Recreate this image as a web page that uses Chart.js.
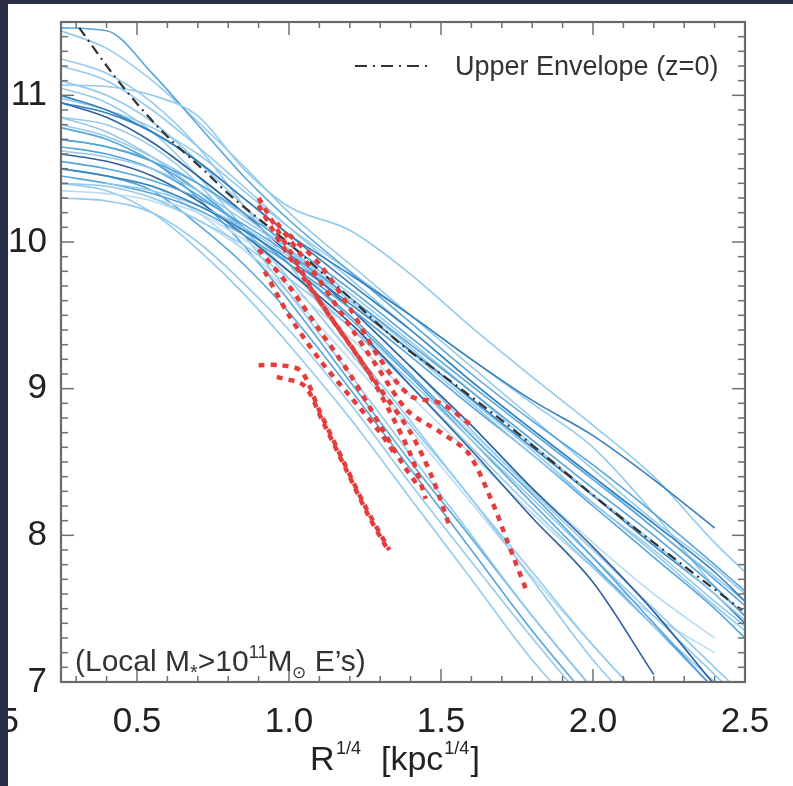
<!DOCTYPE html>
<html><head><meta charset="utf-8">
<script src="https://cdn.jsdelivr.net/npm/chart.js@4.4.1/dist/chart.umd.min.js"></script>
<style>html,body{margin:0;padding:0;background:#fff;overflow:hidden}canvas{display:block}</style>
</head><body>
<canvas id="c" width="793" height="786"></canvas>
<script>
// R^{1/4} grid shared by the blue profiles
const radius = [0.25, 0.4, 0.55, 0.7, 0.85, 1.0, 1.2, 1.4, 1.6, 1.8, 2.0, 2.2, 2.4, 2.5];

// blue profiles (log surface density) on the radius grid
const u1  = [10.95,10.88,10.75,10.55,10.30,10.05,9.78,9.50,9.20,8.92,8.68,8.38,8.05,null];
const u2  = [11.07,11.06,11.00,10.86,10.50,10.24,10.08,9.78,9.42,9.08,8.75,8.40,7.95,7.75];
const u3  = [11.46,11.44,11.15,10.80,10.45,10.15,9.80,9.45,9.10,8.78,8.48,8.15,7.80,7.62];
const u4  = [11.44,11.32,11.10,10.82,10.52,10.20,9.85,9.50,9.15,8.80,8.45,8.10,7.78,7.60];
const u5  = [11.00,10.90,10.75,10.55,10.30,10.05,9.72,9.40,9.05,8.72,8.40,8.08,7.75,7.55];
const u6  = [10.70,10.65,10.55,10.40,10.20,9.98,9.68,9.35,9.02,8.70,8.38,8.05,7.70,7.52];
const u7  = [11.20,11.10,10.90,10.65,10.38,10.10,9.75,9.40,9.05,8.72,8.40,8.05,7.72,7.55];
const u8  = [10.55,10.50,10.42,10.30,10.12,9.92,9.62,9.30,8.98,8.65,8.32,8.00,7.65,7.45];
const u9  = [10.62,10.58,10.50,10.35,10.15,9.95,9.65,9.32,8.98,8.62,8.28,7.95,7.60,7.42];
const u10 = [10.50,10.45,10.38,10.25,10.08,9.88,9.58,9.26,8.93,8.60,8.27,7.93,7.60,7.40];
const u11 = [10.80,10.72,10.58,10.40,10.18,9.95,9.62,9.28,8.92,8.58,8.22,7.90,7.55,7.38];
const u12 = [null,10.40,10.35,10.25,10.10,9.90,9.60,9.25,8.90,8.55,8.22,7.88,7.52,7.35];
const u13 = [10.45,10.40,10.33,10.22,10.05,9.85,9.55,9.22,8.88,8.55,8.20,7.85,7.50,7.30];
const u14 = [10.98,10.90,10.78,10.60,10.35,10.10,9.80,9.50,9.20,8.90,8.60,8.15,7.65,7.45];
const m1  = [10.95,10.85,10.68,10.45,10.20,9.92,9.55,9.15,8.75,8.32,7.92,7.48,6.98,null];
const m2  = [10.60,10.55,10.45,10.28,10.05,9.80,9.45,9.02,8.58,8.12,7.68,7.05,null,null];
const m3  = [11.10,11.00,10.82,10.55,10.25,9.95,9.55,9.15,8.72,8.30,7.90,7.50,7.10,6.90];
const m4  = [10.78,10.70,10.55,10.35,10.10,9.85,9.50,9.10,8.68,8.28,7.85,7.40,6.95,null];
const m5  = [10.85,10.75,10.58,10.35,10.08,9.80,9.42,9.02,8.60,8.18,7.78,7.38,7.00,null];
const m6  = [10.40,10.38,10.30,10.15,9.98,9.75,9.42,9.05,8.65,8.25,7.85,7.45,7.05,6.85];
const m7  = [10.65,10.60,10.50,10.32,10.10,9.85,9.48,9.08,8.65,8.22,7.80,7.38,6.95,null];
const m8  = [10.35,10.33,10.28,10.15,9.95,9.70,9.35,8.95,8.55,8.15,7.78,7.45,7.20,null];
const m9  = [null,null,10.30,10.20,10.02,9.80,9.45,9.08,8.70,8.32,7.95,7.60,7.30,null];
const l1  = [11.05,10.95,10.75,10.45,10.10,9.75,9.25,8.75,8.25,7.70,7.15,6.70,null,null];
const l2  = [10.85,10.80,10.65,10.40,10.05,9.65,9.10,8.55,8.00,7.45,6.95,null,null,null];
const l3  = [10.70,10.65,10.55,10.30,9.98,9.60,9.05,8.50,7.98,7.45,6.95,null,null,null];
const l4  = [10.40,10.35,10.20,9.95,9.65,9.30,8.80,8.25,7.70,7.15,6.70,null,null,null];
const l5  = [10.30,10.28,10.20,10.00,9.72,9.40,8.90,8.35,7.82,7.30,6.80,null,null,null];
const l6  = [10.50,10.45,10.35,10.12,9.85,9.52,9.00,8.45,7.90,7.35,6.85,null,null,null];
const l7  = [11.25,11.15,10.95,10.65,10.25,9.85,9.30,8.78,8.25,7.75,7.25,6.80,null,null];
const l8  = [null,10.45,10.38,10.20,9.95,9.65,9.20,8.72,8.22,7.72,7.25,6.80,null,null];

// upper envelope (z=0)
const envelopeR = [0.31, 0.43, 0.58, 0.73, 0.80, 1.00, 1.20, 1.37, 1.50, 1.69, 1.85, 2.02, 2.25, 2.49];
const envelopeS = [11.46, 11.12, 10.76, 10.47, 10.33, 9.99, 9.62, 9.30, 9.10, 8.80, 8.53, 8.24, 7.87, 7.49];

// red dashed profiles [R^{1/4}, value]
const redA = [[0.90,10.30],[1.00,9.95],[1.10,9.60],[1.20,9.30],[1.30,9.00],[1.40,8.70],[1.47,8.40],[1.53,8.05]];
const redB = [[0.90,9.16],[0.97,9.16],[1.04,9.12],[1.10,8.85],[1.18,8.50],[1.25,8.20],[1.33,7.90]];
const redC = [[0.96,9.08],[1.05,9.02],[1.11,8.78],[1.19,8.44],[1.26,8.14],[1.32,7.92]];
const redD = [[0.96,10.13],[1.08,9.80],[1.18,9.49],[1.29,9.15],[1.39,8.85],[1.50,8.70],[1.59,8.56],[1.67,8.22],[1.72,7.95],[1.78,7.63]];
const redE = [[0.90,10.25],[0.97,10.00],[1.05,9.75],[1.15,9.45],[1.25,9.15],[1.33,8.85],[1.40,8.55],[1.45,8.25]];
const redF = [[0.90,9.95],[1.00,9.70],[1.10,9.40],[1.20,9.10],[1.30,8.75],[1.37,8.50],[1.42,8.35]];
const redG = [[0.92,9.80],[1.00,9.50],[1.10,9.20],[1.20,8.95],[1.30,8.70],[1.35,8.55]];
const redH = [[1.00,10.05],[1.10,9.85],[1.20,9.55],[1.30,9.20],[1.40,8.95],[1.50,8.90],[1.60,8.75]];

const xMajorTicks = [0.5, 1.0, 1.5, 2.0, 2.5];
const yMajorTicks = [7, 8, 9, 10, 11];

const LIGHT = '#93caee', MED = '#56a6dc', DARK = '#3580bf', DARKEST = '#2d5f9c', PALE = '#b8dcf3';
const blueSet = [
  [u1, DARK], [u2, LIGHT], [u3, MED], [u4, LIGHT], [u5, DARK], [u6, MED], [u7, LIGHT],
  [u8, MED], [u9, LIGHT], [u10, DARK], [u11, LIGHT], [u12, LIGHT], [u13, MED], [u14, LIGHT],
  [m1, DARKEST], [m2, DARKEST], [m3, LIGHT], [m4, MED], [m5, LIGHT], [m6, LIGHT], [m7, MED],
  [m8, PALE], [m9, PALE],
  [l1, LIGHT], [l2, LIGHT], [l3, MED], [l4, LIGHT], [l5, LIGHT], [l6, MED], [l7, LIGHT], [l8, PALE]
];
const redSet = [redA, redB, redC, redD, redE, redF, redG, redH];

const datasets = [];
redSet.forEach(r => datasets.push({
  data: r.map(p => ({x: p[0], y: p[1]})), borderColor: '#e53c3c', borderWidth: 4.5,
  borderDash: [6, 6], pointRadius: 0, tension: 0.3, fill: false
}));
datasets.push({
  data: envelopeR.map((r, i) => ({x: r, y: envelopeS[i]})), borderColor: '#333',
  borderWidth: 2.2, borderDash: [10, 5, 2, 5], pointRadius: 0, cubicInterpolationMode: 'monotone', fill: false
});
blueSet.forEach(([arr, col]) => datasets.push({
  data: radius.map((r, i) => ({x: r, y: arr[i]})), borderColor: col,
  borderWidth: 1.6, pointRadius: 0, cubicInterpolationMode: 'monotone', fill: false, spanGaps: false
}));

const FONT = '"Liberation Sans", Arial, Helvetica, sans-serif';

function line(ctx, x1, y1, x2, y2) { ctx.beginPath(); ctx.moveTo(x1, y1); ctx.lineTo(x2, y2); ctx.stroke(); }

const decor = {
  id: 'decor',
  beforeDraw(chart) {
    const ctx = chart.ctx; ctx.save(); ctx.fillStyle = '#fff'; ctx.fillRect(0, 0, chart.width, chart.height); ctx.restore();
  },
  afterDraw(chart) {
    const {ctx, chartArea: a, scales: {x, y}} = chart;
    ctx.save();
    // ticks (inward) on all four sides
    ctx.strokeStyle = '#707070'; ctx.lineWidth = 1.5;
    for (let i = 3; i <= 25; i++) {
      const v = i / 10, px = x.getPixelForValue(v);
      if (px < a.left + 2 || px > a.right - 2) continue;
      const L = (i % 5 === 0) ? 13 : 6;
      line(ctx, px, a.bottom, px, a.bottom - L);
      line(ctx, px, a.top, px, a.top + L);
    }
    for (let i = 70; i <= 115; i++) {
      const v = i / 10, py = y.getPixelForValue(v);
      if (py < a.top + 2 || py > a.bottom - 2) continue;
      const L = (i % 10 === 0) ? 13 : 7;
      line(ctx, a.left, py, a.left + L, py);
      line(ctx, a.right, py, a.right - L, py);
    }
    ctx.lineWidth = 2.2; ctx.strokeStyle = '#6a6a6a';
    ctx.strokeRect(a.left, a.top, a.right - a.left, a.bottom - a.top);

    // legend
    ctx.strokeStyle = '#333'; ctx.lineWidth = 2.2; ctx.setLineDash([12, 6, 2, 6]);
    line(ctx, 355, 66, 430, 66); ctx.setLineDash([]);
    ctx.fillStyle = '#333'; ctx.textBaseline = 'alphabetic'; ctx.textAlign = 'left';
    ctx.font = '27px ' + FONT;
    ctx.fillText('Upper Envelope (z=0)', 455, 75);

    // inner label
    let xx = 75; const base = 671;
    const put = (t, size, dy) => { ctx.font = size + 'px ' + FONT; ctx.fillText(t, xx, base + dy); xx += ctx.measureText(t).width; };
    ctx.fillStyle = '#333';
    put('(Local M', 30, 0); put('*', 20, 8); put('>10', 30, 0); put('11', 18, -13);
    put('M', 30, 0); put('\u2299', 17, 7); put(' E\u2019s)', 30, 0);

    // axis title
    const tb = 770;
    ctx.fillStyle = '#222';
    ctx.font = '34px ' + FONT; ctx.fillText('R', 310, tb);
    ctx.font = '18px ' + FONT; ctx.fillText('1/4', 336, tb - 16);
    ctx.font = '34px ' + FONT; ctx.fillText('[kpc', 381, tb);
    xx = 381 + ctx.measureText('[kpc').width + 1;
    ctx.font = '18px ' + FONT; ctx.fillText('1/4', xx, tb - 16);
    xx += ctx.measureText('1/4').width + 1;
    ctx.font = '34px ' + FONT; ctx.fillText(']', xx, tb);

    // cropped tick label fragment at left edge
    ctx.font = '35px ' + FONT; ctx.textAlign = 'right'; ctx.fillStyle = '#222';
    ctx.fillText('5', 19, 732);

    // dark borders of the screenshot
    ctx.fillStyle = '#2c2e48';
    ctx.fillRect(0, 0, 8, chart.height);
    ctx.fillRect(0, 0, chart.width, 4);
    ctx.restore();
  }
};

new Chart(document.getElementById('c'), {
  type: 'line',
  data: { datasets },
  options: {
    responsive: false, animation: false, devicePixelRatio: 1,
    layout: { padding: { left: 0, right: 48, top: 22, bottom: 0 } },
    plugins: { legend: { display: false }, tooltip: { enabled: false } },
    scales: {
      x: {
        type: 'linear', min: 0.25, max: 2.5,
        afterFit(s) { s.height = 104; s.paddingLeft = 0; s.paddingRight = 0; },
        afterBuildTicks(s) { s.ticks = xMajorTicks.map(v => ({value: v})); },
        grid: { display: false }, border: { display: false },
        ticks: { color: '#222', font: { size: 35, family: FONT }, padding: 11, maxRotation: 0,
                 callback: v => Number(v).toFixed(1) }
      },
      y: {
        type: 'linear', min: 7, max: 11.5,
        afterFit(s) { s.width = 61; s.paddingTop = 0; s.paddingBottom = 0; },
        afterBuildTicks(s) { s.ticks = yMajorTicks.map(v => ({value: v})); },
        grid: { display: false }, border: { display: false },
        ticks: { color: '#222', font: { size: 35, family: FONT }, padding: 6,
                 callback: v => String(v) }
      }
    }
  },
  plugins: [decor]
});
</script>
</body></html>
